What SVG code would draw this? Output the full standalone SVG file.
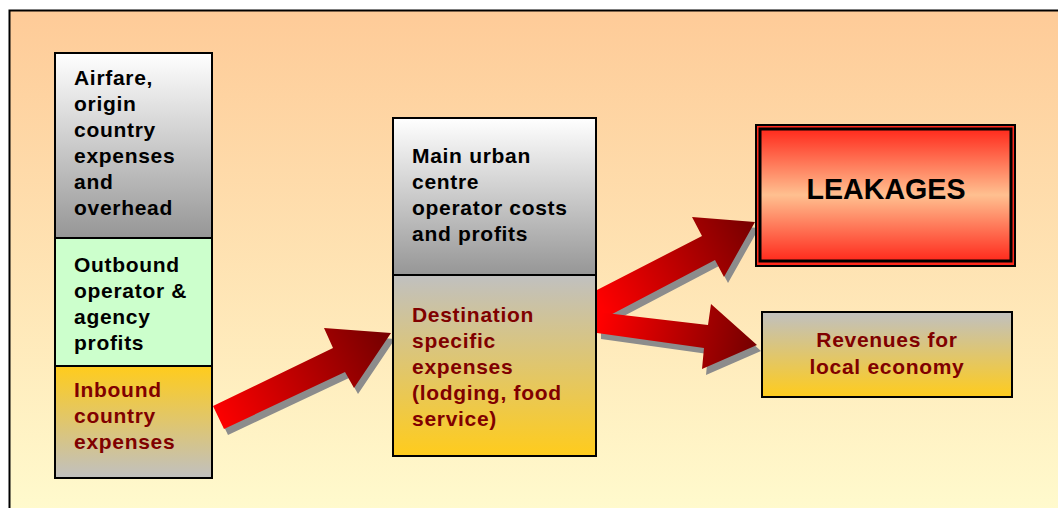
<svg xmlns="http://www.w3.org/2000/svg" width="1058" height="508" viewBox="0 0 1058 508">
<defs>
<linearGradient id="bg" x1="0" y1="0" x2="0" y2="1"><stop offset="0" stop-color="#FECB98"/><stop offset="1" stop-color="#FFFBCE"/></linearGradient>
<linearGradient id="wg" x1="0" y1="0" x2="0" y2="1"><stop offset="0" stop-color="#FFFFFF"/><stop offset="1" stop-color="#969696"/></linearGradient>
<linearGradient id="gy" x1="0" y1="0" x2="0" y2="1"><stop offset="0" stop-color="#FFCC1C"/><stop offset="1" stop-color="#C0C0C0"/></linearGradient>
<linearGradient id="yg" x1="0" y1="0" x2="0" y2="1"><stop offset="0" stop-color="#C0C0C0"/><stop offset="1" stop-color="#FFCC1C"/></linearGradient>
<linearGradient id="rd" x1="0" y1="0" x2="0" y2="1"><stop offset="0" stop-color="#FF2A1C"/><stop offset="0.5" stop-color="#FFC090"/><stop offset="1" stop-color="#FF2A1C"/></linearGradient>
<linearGradient id="ar1" gradientUnits="userSpaceOnUse" x1="215" y1="420" x2="380" y2="335"><stop offset="0" stop-color="#FF0000"/><stop offset="1" stop-color="#7A0000"/></linearGradient>
<linearGradient id="ar2" gradientUnits="userSpaceOnUse" x1="600" y1="305" x2="750" y2="225"><stop offset="0" stop-color="#FF0000"/><stop offset="1" stop-color="#7A0000"/></linearGradient>
<linearGradient id="ar3" gradientUnits="userSpaceOnUse" x1="600" y1="320" x2="750" y2="345"><stop offset="0" stop-color="#FF0000"/><stop offset="1" stop-color="#7A0000"/></linearGradient>
<style>
.box{stroke:#000;stroke-width:2}
.t{font-family:"Liberation Sans",Arial,sans-serif;font-weight:bold;font-size:21px;letter-spacing:0.7px;fill:#000}
.r{fill:#800000}
.sh{fill:#8C8C8C}
</style>
</defs>
<rect x="0" y="0" width="1058" height="508" fill="#FFFFFF"/>
<rect id="frame" x="9.5" y="10.5" width="1060" height="510" fill="url(#bg)" stroke="#000" stroke-width="2"/>

<g id="connectors">
<g transform="translate(4,6)" class="sh">
<polygon points="213,406 333,348 324,328 391,333 354,388 345,372 224,429"/>
<polygon points="597,290 702,236 692,217 755,222 724,277 715,260 597,322"/>
<polygon points="597,312 708,325 711,304 757,345 702,369 704,348 597,333"/>
</g>
<polygon fill="url(#ar1)" points="213,406 333,348 324,328 391,333 354,388 345,372 224,429"/>
<polygon fill="url(#ar2)" points="597,290 702,236 692,217 755,222 724,277 715,260 597,322"/>
<polygon fill="url(#ar3)" points="597,312 708,325 711,304 757,345 702,369 704,348 597,333"/>
</g>

<g id="airfare">
<rect class="box" x="55" y="53" width="157" height="185" fill="url(#wg)"/>
<text class="t"><tspan x="74" y="85">Airfare,</tspan><tspan x="74" y="111">origin</tspan><tspan x="74" y="137">country</tspan><tspan x="74" y="163">expenses</tspan><tspan x="74" y="189">and</tspan><tspan x="74" y="215">overhead</tspan></text>
</g>
<g id="outbound">
<rect class="box" x="55" y="238" width="157" height="128" fill="#CCFFCC"/>
<text class="t"><tspan x="74" y="272">Outbound</tspan><tspan x="74" y="298">operator &amp;</tspan><tspan x="74" y="324">agency</tspan><tspan x="74" y="350">profits</tspan></text>
</g>
<g id="inbound">
<rect class="box" x="55" y="366" width="157" height="112" fill="url(#gy)"/>
<text class="t r"><tspan x="74" y="397">Inbound</tspan><tspan x="74" y="423">country</tspan><tspan x="74" y="449">expenses</tspan></text>
</g>
<g id="urban">
<rect class="box" x="393" y="118" width="203" height="157" fill="url(#wg)"/>
<text class="t"><tspan x="412" y="163">Main urban</tspan><tspan x="412" y="189">centre</tspan><tspan x="412" y="215">operator costs</tspan><tspan x="412" y="241">and profits</tspan></text>
</g>
<g id="destination">
<rect class="box" x="393" y="275" width="203" height="181" fill="url(#yg)"/>
<text class="t r"><tspan x="412" y="322">Destination</tspan><tspan x="412" y="348">specific</tspan><tspan x="412" y="374">expenses</tspan><tspan x="412" y="400">(lodging, food</tspan><tspan x="412" y="426">service)</tspan></text>
</g>
<g id="leakages">
<rect x="756" y="125" width="259" height="141" fill="#FF2A1C" stroke="#000" stroke-width="2"/>
<rect x="760" y="129" width="251" height="132" fill="url(#rd)" stroke="#000" stroke-width="3"/>
<text class="t" x="886" y="199" text-anchor="middle" textLength="159" lengthAdjust="spacingAndGlyphs" style="font-size:30px;letter-spacing:0">LEAKAGES</text>
</g>
<g id="revenues">
<rect class="box" x="762" y="312" width="250" height="85" fill="url(#yg)"/>
<text class="t r" text-anchor="middle"><tspan x="887" y="347">Revenues for</tspan><tspan x="887" y="374">local economy</tspan></text>
</g>
</svg>
